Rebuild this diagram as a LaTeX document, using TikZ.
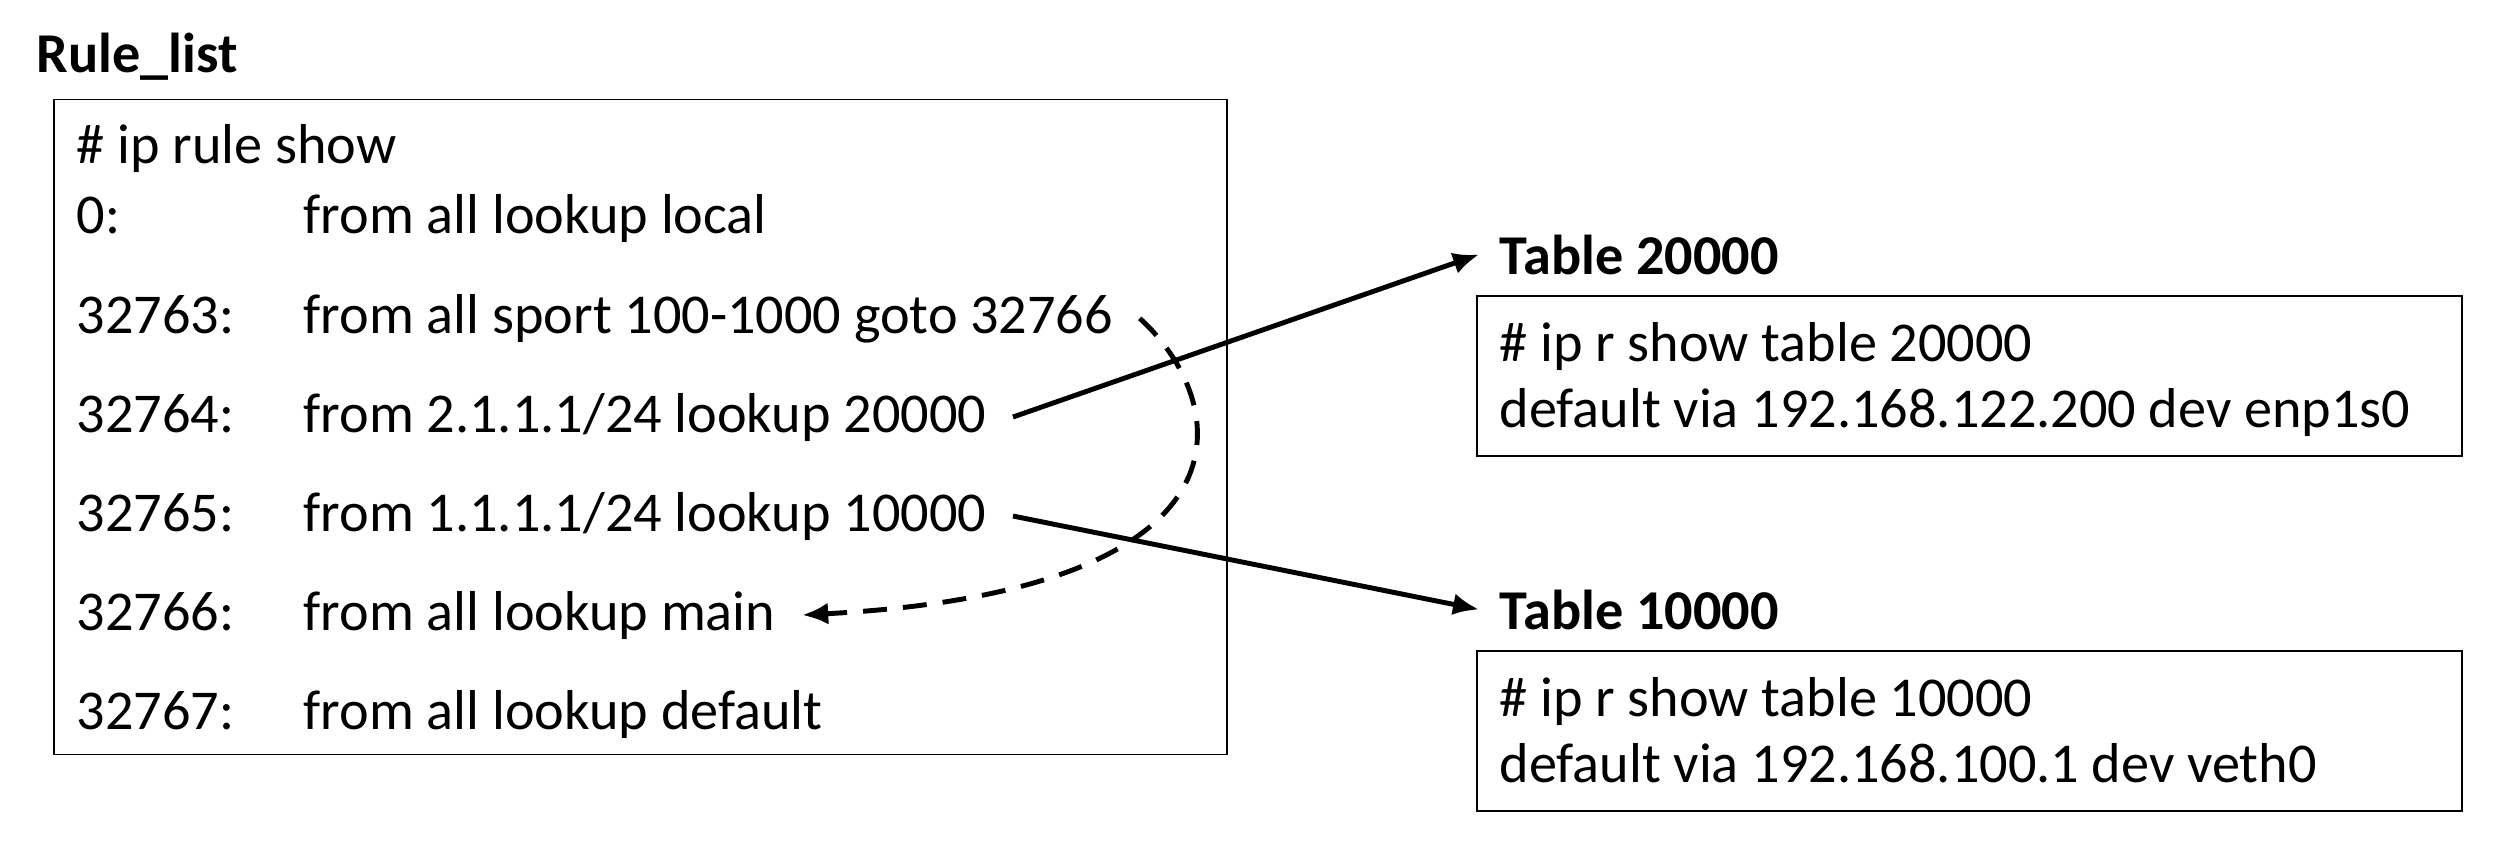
\documentclass[tikz,border=0pt]{standalone}
\usepackage{fontspec}
\setmainfont{Carlito}
\usetikzlibrary{arrows.meta}
\newcommand{\bodyfont}{\fontsize{16}{19}\selectfont}
\tikzset{
  box/.style={draw, line width=0.5pt, inner sep=0pt},
  line/.style={anchor=base west, inner sep=2.6mm, font=\bodyfont},
  title/.style={anchor=base west, inner sep=2mm, font=\bodyfont\bfseries},
  arr/.style={-{Latex[length=2.6mm,width=2.2mm]}, line width=1.4pt},
  dashedarr/.style={arr, dash pattern=on 2.4mm off 1.6mm}
}
\begin{document}
\begin{tikzpicture}[x=0.1mm,y=-0.1mm]
    \useasboundingbox (0,0) rectangle (2516,864);
    % rule list
    \node[title] (rulelist) at (16,72) {Rule\_list};
    \node[box, minimum width=117.3mm, minimum height=65.5mm] (rules) at (640.5,427) {};
    \node[line] (cmd) at (50,163) {\# ip rule show};
    \foreach \id/\txt/\y in {0/{from all lookup local}/233,
        32763/{from all sport 100-1000 goto 32766}/333,
        32764/{from 2.1.1.1/24 lookup 20000}/432,
        32765/{from 1.1.1.1/24 lookup 10000}/531,
        32766/{from all lookup main}/630,
        32767/{from all lookup default}/729}
    {\node[line] (n\id) at (50,\y) {\id:};
     \node[line] (r\id) at (277,\y) {\txt};}
    % route tables
    \foreach \t/\dy/\via in {20000/0/{192.168.122.200 dev enp1s0},
        10000/355/{192.168.100.1 dev veth0}}
    {\node[title] (t\t) at (1479,274+\dy) {Table \t};
     \node[box, minimum width=98.5mm, minimum height=16mm] (tab\t) at (1969.5,376+\dy) {};
     \node[line] (show\t) at (1473,361+\dy) {\# ip r show table \t};
     \node[line] (via\t) at (1473,427+\dy) {default via \via};}
    \draw[arr] (r32764.east)--(t20000.west);
    \draw[arr] (r32765.east)--(t10000.west);
    \draw[dashedarr] (r32763.east) .. controls (1230,400) and (1270,590) .. (r32766.east);
\end{tikzpicture}
\end{document}
